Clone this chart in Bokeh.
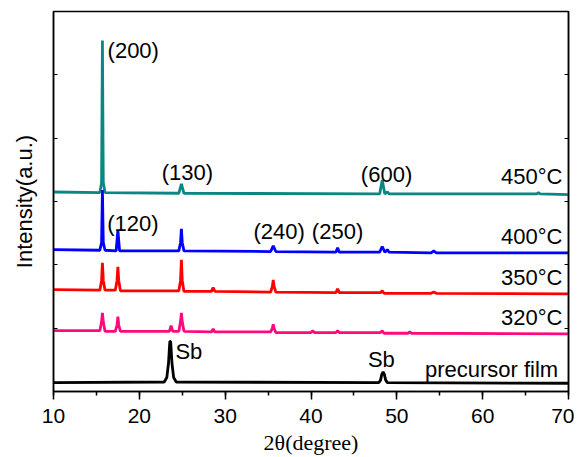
from bokeh.plotting import figure
from bokeh.models import LinearAxis, SingleIntervalTicker, FixedTicker, Range1d, ColumnDataSource
from bokeh.core.properties import value
from bokeh.embed import file_html
from bokeh.resources import INLINE

# ---- data (offsets in arbitrary stacked units) ----
x_450 = [10, 15.4, 15.6, 15.7, 15.8, 16.0, 24.6, 24.9, 25.2, 48.0, 48.3, 48.6, 48.9, 49.1, 66.3, 66.5, 66.7, 70]
y_450 = [3.15, 3.14, 3.30, 5.54, 3.30, 3.14, 3.13, 3.28, 3.13, 3.12, 3.34, 3.12, 3.15, 3.12, 3.12, 3.14, 3.12, 3.11]

x_400 = [10, 15.4, 15.6, 15.7, 15.8, 16.0, 17.3, 17.5, 17.7, 24.6, 24.8, 24.9, 25.0, 25.2, 35.3, 35.6, 35.9,
         42.9, 43.1, 43.3, 48.0, 48.3, 48.6, 48.9, 49.1, 54.0, 54.3, 54.6, 70]
y_400 = [2.24, 2.23, 2.35, 3.18, 2.35, 2.23, 2.22, 2.55, 2.22, 2.22, 2.35, 2.57, 2.35, 2.22, 2.21, 2.30, 2.21,
         2.20, 2.27, 2.20, 2.20, 2.29, 2.20, 2.24, 2.20, 2.19, 2.22, 2.19, 2.19]

x_350 = [10, 15.4, 15.6, 15.7, 15.8, 16.0, 17.2, 17.4, 17.5, 17.6, 17.8, 24.6, 24.8, 24.9, 25.0, 25.2,
         28.4, 28.6, 28.8, 35.3, 35.5, 35.6, 35.7, 35.9, 42.9, 43.1, 43.3, 48.1, 48.3, 48.5, 54.0, 54.3, 54.6, 70]
y_350 = [1.61, 1.60, 1.75, 2.03, 1.75, 1.60, 1.60, 1.75, 1.97, 1.75, 1.59, 1.59, 1.75, 2.08, 1.75, 1.58,
         1.58, 1.64, 1.58, 1.57, 1.66, 1.76, 1.66, 1.57, 1.56, 1.62, 1.56, 1.56, 1.59, 1.55, 1.55, 1.57, 1.55, 1.54]

x_320 = [10, 15.4, 15.6, 15.7, 15.8, 16.0, 17.2, 17.4, 17.5, 17.6, 17.8, 23.5, 23.7, 23.9, 24.6, 24.8, 24.9,
         25.0, 25.2, 28.4, 28.6, 28.8, 35.3, 35.5, 35.6, 35.7, 35.9, 40.0, 40.2, 40.4, 42.9, 43.1, 43.3,
         48.1, 48.3, 48.5, 51.3, 51.5, 51.7, 70]
y_320 = [0.96, 0.96, 1.10, 1.24, 1.10, 0.95, 0.95, 1.05, 1.18, 1.05, 0.95, 0.95, 1.04, 0.95, 0.95, 1.10, 1.24,
         1.10, 0.95, 0.94, 0.99, 0.94, 0.94, 1.00, 1.06, 1.00, 0.93, 0.93, 0.96, 0.93, 0.93, 0.96, 0.93,
         0.93, 0.96, 0.92, 0.92, 0.94, 0.92, 0.91]

x_pre = [10, 22.9, 23.2, 23.4, 23.55, 23.65, 23.8, 24.0, 24.3, 47.9, 48.1, 48.25, 48.4, 48.55, 48.7, 48.9, 70]
y_pre = [0.14, 0.15, 0.22, 0.45, 0.79, 0.79, 0.45, 0.22, 0.15, 0.14, 0.18, 0.27, 0.31, 0.27, 0.18, 0.14, 0.13]

series_x = [x_450, x_400, x_350, x_320, x_pre]
series_y = [y_450, y_400, y_350, y_320, y_pre]
series_colors = ["#0B8783", "#0000FF", "#FF0000", "#FF0A7E", "#000000"]

# peak index labels
hkl_text = ["(200)", "(130)", "(600)", "(120)", "(240)", "(250)"]
hkl_x = [16.3, 25.6, 48.8, 16.25, 33.3, 40.1]
hkl_y = [5.39, 3.46, 3.43, 2.66, 2.52, 2.52]
hkl_align = ["left", "center", "center", "left", "left", "left"]

# temperature labels
temp_text = ["450°C", "400°C", "350°C", "320°C", "precursor film"]
temp_x = [69.3, 69.3, 69.3, 69.3, 68.8]
temp_y = [3.39, 2.45, 1.80, 1.17, 0.35]

sb_text = ["Sb", "Sb"]
sb_x = [24.2, 48.2]
sb_y = [0.63, 0.50]
sb_align = ["left", "center"]

FONT = "Liberation Sans"

p = figure(width=574, height=457, output_backend="svg", toolbar_location=None,
           x_range=Range1d(10, 70), y_range=Range1d(0, 6),
           min_border_left=53, min_border_right=6, min_border_top=11, min_border_bottom=65)

for xs, ys, c in zip(series_x, series_y, series_colors):
    p.line(xs, ys, line_color=c, line_width=2.8)

src_hkl = ColumnDataSource(dict(x=hkl_x, y=hkl_y, t=hkl_text, a=hkl_align))
p.text("x", "y", text="t", source=src_hkl, text_align="a", text_baseline="middle",
       text_font=value(FONT), text_font_size="22px", text_color="black")

src_temp = ColumnDataSource(dict(x=temp_x, y=temp_y, t=temp_text))
p.text("x", "y", text="t", source=src_temp, text_align="right", text_baseline="middle",
       text_font=value(FONT), text_font_size="22px", text_color="black")

src_sb = ColumnDataSource(dict(x=sb_x, y=sb_y, t=sb_text, a=sb_align))
p.text("x", "y", text="t", source=src_sb, text_align="a", text_baseline="middle",
       text_font=value(FONT), text_font_size="22px", text_color="black")

# axes
p.xgrid.visible = False
p.ygrid.visible = False
p.outline_line_color = "black"
p.outline_line_width = 1.5

xa = p.xaxis[0]
xa.ticker = SingleIntervalTicker(interval=10, num_minor_ticks=2)
xa.major_tick_out = 8
xa.major_tick_in = 0
xa.minor_tick_out = 4
xa.minor_tick_in = 0
xa.axis_line_width = 1.5
xa.major_tick_line_width = 1.5
xa.minor_tick_line_width = 1.5
xa.major_label_text_font = FONT
xa.major_label_text_font_size = "21px"
xa.major_label_text_color = "black"
xa.major_label_standoff = 9
xa.axis_label = "2θ(degree)"
xa.axis_label_text_font = "Liberation Serif"
xa.axis_label_text_font_style = "normal"
xa.axis_label_text_font_size = "22px"
xa.axis_label_text_color = "black"
xa.axis_label_standoff = 4

ya = p.yaxis[0]
ya.ticker = FixedTicker(ticks=[0, 1, 2, 3, 4, 5, 6])
ya.major_tick_in = 4
ya.major_tick_out = 0
ya.minor_tick_in = 0
ya.minor_tick_out = 0
ya.axis_line_width = 1.5
ya.major_label_text_font_size = "0px"
ya.major_label_text_alpha = 0
ya.major_label_standoff = 0
ya.axis_label = "Intensity(a.u.)"
ya.axis_label_text_font = FONT
ya.axis_label_text_font_style = "normal"
ya.axis_label_text_font_size = "22px"
ya.axis_label_text_color = "black"
ya.axis_label_standoff = 17

ra = LinearAxis(ticker=FixedTicker(ticks=[0, 1, 2, 3, 4, 5, 6]),
                major_tick_in=4, major_tick_out=0, minor_tick_in=0, minor_tick_out=0,
                major_label_text_font_size="0px", major_label_text_alpha=0,
                major_label_standoff=0, axis_line_width=1.5)
p.add_layout(ra, "right")

open("out.html", "w").write(file_html(p, INLINE))
